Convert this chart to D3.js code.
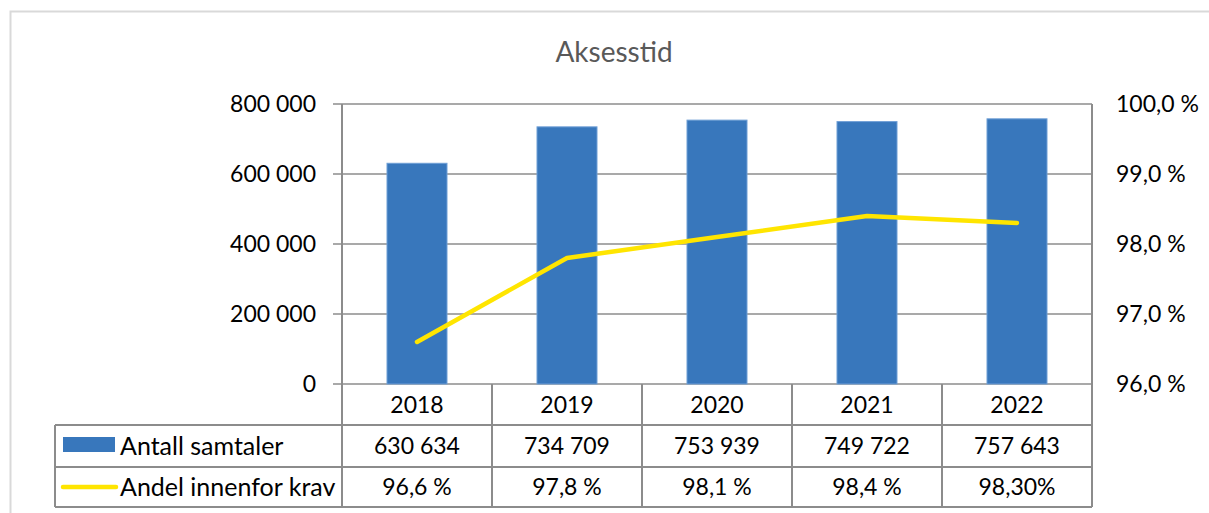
<!DOCTYPE html>
<html>
<head>
<meta charset="utf-8">
<script src="https://cdn.jsdelivr.net/npm/d3@7"></script>
<style>
  body { margin: 0; background: #fff; }
  text { font-family: Lato, "Open Sans", sans-serif; fill: #000; }
</style>
</head>
<body>
<div id="chart"></div>
<script>
const years = ["2018", "2019", "2020", "2021", "2022"];
const calls = [630634, 734709, 753939, 749722, 757643];
const share = [96.6, 97.8, 98.1, 98.4, 98.3];
const callLabels = ["630 634", "734 709", "753 939", "749 722", "757 643"];
const shareLabels = ["96,6 %", "97,8 %", "98,1 %", "98,4 %", "98,30%"];
const leftTicks = [0, 200000, 400000, 600000, 800000];
const rightTicks = [96, 97, 98, 99, 100];

const width = 1209, height = 513;
const plot = { left: 342, right: 1092, top: 104, bottom: 384 };
const tableLeft = 55;
const rowLines = [384, 425, 467, 507];
const gridColor = "#8c8c8c";

const svg = d3.select("#chart").append("svg")
    .attr("width", width)
    .attr("height", height);

// outer frame
svg.append("path")
    .attr("d", `M10.5,${height} V11.5 H${width}`)
    .attr("fill", "none")
    .attr("stroke", "#d9d9d9")
    .attr("stroke-width", 2);

svg.append("text")
    .attr("x", 614).attr("y", 62)
    .attr("text-anchor", "middle")
    .style("font-size", "28px")
    .style("fill", "#595959")
    .text("Aksesstid");

const x = d3.scaleBand().domain(years).range([plot.left, plot.right]);
const yLeft = d3.scaleLinear().domain([0, 800000]).range([plot.bottom, plot.top]);
const yRight = d3.scaleLinear().domain([96, 100]).range([plot.bottom, plot.top]);

const fmtNum = d => d3.format(",")(d).replace(/,/g, " ");
const fmtPct = d => d.toFixed(1).replace(".", ",") + " %";

// gridlines
svg.append("g").selectAll("line")
    .data(leftTicks)
    .join("line")
    .attr("x1", plot.left - 9).attr("x2", plot.right)
    .attr("y1", d => yLeft(d)).attr("y2", d => yLeft(d))
    .attr("stroke", gridColor)
    .attr("stroke-width", 1.5);

svg.append("g").selectAll("text")
    .data(leftTicks)
    .join("text")
    .attr("x", 316).attr("y", d => yLeft(d) + 8)
    .attr("text-anchor", "end")
    .style("font-size", "23px")
    .text(fmtNum);

svg.append("g").selectAll("text")
    .data(rightTicks)
    .join("text")
    .attr("x", 1116).attr("y", d => yRight(d) + 8)
    .style("font-size", "23px")
    .text(fmtPct);

// bars
svg.append("g").selectAll("rect")
    .data(years)
    .join("rect")
    .attr("x", d => x(d) + x.bandwidth() / 2 - 30)
    .attr("width", 60)
    .attr("y", (d, i) => yLeft(calls[i]))
    .attr("height", (d, i) => yLeft(0) - yLeft(calls[i]))
    .attr("fill", "#3877bc")
    .attr("stroke", "#6f9fd6")
    .attr("stroke-width", 1);

// line
const line = d3.line()
    .x((d, i) => x(years[i]) + x.bandwidth() / 2)
    .y(d => yRight(d));

svg.append("path")
    .datum(share)
    .attr("d", line)
    .attr("fill", "none")
    .attr("stroke", "#ffe500")
    .attr("stroke-width", 4.5)
    .attr("stroke-linecap", "round")
    .attr("stroke-linejoin", "round");

// data table
const table = svg.append("g")
    .attr("stroke", gridColor)
    .attr("stroke-width", 2);

table.append("line")
    .attr("x1", plot.right).attr("x2", plot.right)
    .attr("y1", plot.top).attr("y2", rowLines[3]);
table.append("line")
    .attr("x1", plot.left).attr("x2", plot.left)
    .attr("y1", plot.top).attr("y2", rowLines[3]);
table.selectAll(".col")
    .data(years.slice(1))
    .join("line")
    .attr("x1", d => x(d)).attr("x2", d => x(d))
    .attr("y1", rowLines[0]).attr("y2", rowLines[3]);
table.selectAll(".row")
    .data(rowLines.slice(1))
    .join("line")
    .attr("x1", tableLeft).attr("x2", plot.right)
    .attr("y1", d => d).attr("y2", d => d);
table.append("line")
    .attr("x1", tableLeft).attr("x2", tableLeft)
    .attr("y1", rowLines[1]).attr("y2", rowLines[3]);

const rows = [years, callLabels, shareLabels];
rows.forEach((vals, r) => {
    svg.append("g").selectAll("text")
        .data(vals)
        .join("text")
        .attr("x", (d, i) => x(years[i]) + x.bandwidth() / 2)
        .attr("y", (rowLines[r] + rowLines[r + 1]) / 2 + 8)
        .attr("text-anchor", "middle")
        .style("font-size", "23px")
        .text(d => d);
});

// legend keys
svg.append("rect")
    .attr("x", 63).attr("y", 437)
    .attr("width", 52).attr("height", 15)
    .attr("fill", "#3877bc");
svg.append("line")
    .attr("x1", 63).attr("x2", 116)
    .attr("y1", 487).attr("y2", 487)
    .attr("stroke", "#ffe500")
    .attr("stroke-width", 4.5)
    .attr("stroke-linecap", "round");

svg.append("text")
    .attr("x", 120).attr("y", (rowLines[1] + rowLines[2]) / 2 + 9)
    .style("font-size", "25px")
    .text("Antall samtaler");
svg.append("text")
    .attr("x", 120).attr("y", (rowLines[2] + rowLines[3]) / 2 + 9)
    .style("font-size", "25px")
    .text("Andel innenfor krav");
</script>
</body>
</html>
